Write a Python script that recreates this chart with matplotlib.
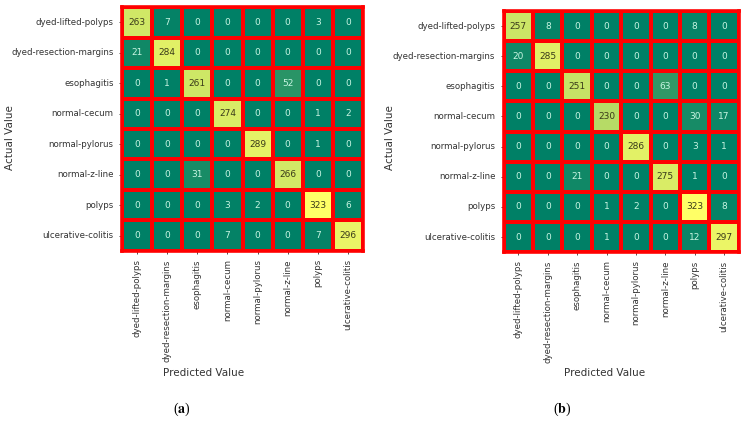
import numpy as np
import matplotlib
matplotlib.use("Agg")
import matplotlib.pyplot as plt
import seaborn as sns

classes = ["dyed-lifted-polyps", "dyed-resection-margins", "esophagitis",
           "normal-cecum", "normal-pylorus", "normal-z-line", "polyps",
           "ulcerative-colitis"]

cm_a = [[263, 7, 0, 0, 0, 0, 3, 0],
        [21, 284, 0, 0, 0, 0, 0, 0],
        [0, 1, 261, 0, 0, 52, 0, 0],
        [0, 0, 0, 274, 0, 0, 1, 2],
        [0, 0, 0, 0, 289, 0, 1, 0],
        [0, 0, 31, 0, 0, 266, 0, 0],
        [0, 0, 0, 3, 2, 0, 323, 6],
        [0, 0, 0, 7, 0, 0, 7, 296]]

cm_b = [[257, 8, 0, 0, 0, 0, 8, 0],
        [20, 285, 0, 0, 0, 0, 0, 0],
        [0, 0, 251, 0, 0, 63, 0, 0],
        [0, 0, 0, 230, 0, 0, 30, 17],
        [0, 0, 0, 0, 286, 0, 3, 1],
        [0, 0, 21, 0, 0, 275, 1, 0],
        [0, 0, 0, 1, 2, 0, 323, 8],
        [0, 0, 0, 1, 0, 0, 12, 297]]

panel_labels = ["a", "b"]

plt.rcParams["mathtext.fontset"] = "stix"

fig = plt.figure(figsize=(7.44, 4.23), dpi=100)

# axes boxes [left, bottom, width, height] and label positions (figure px)
boxes = [[0.164, 0.407, 0.324, 0.576], [0.677, 0.404, 0.316, 0.570]]
ylab_x = [10, 390]
xlab_x = [204, 605]
tag_x = [182, 562]


def draw(ax, cm):
    sns.heatmap(np.array(cm), ax=ax, cmap="summer", annot=True, fmt="d",
                cbar=False, linewidths=2.6, linecolor="red",
                annot_kws={"fontsize": 6.5},
                xticklabels=classes, yticklabels=classes)
    for t in ax.texts:
        v = int(t.get_text())
        t.set_color("#3a3a1a" if v > 150 else "#c8f5e2")
    for s in ax.spines.values():
        s.set_visible(True)
        s.set_color("red")
        s.set_linewidth(2.6)
    ax.tick_params(axis="both", labelsize=6.2, colors="#333333",
                   length=2.5, width=0.6)
    ax.set_xticklabels(classes, rotation=90)
    ax.set_yticklabels(classes, rotation=0)


for i, cm in enumerate([cm_a, cm_b]):
    ax = fig.add_axes(boxes[i])
    draw(ax, cm)
    fig.text(ylab_x[i] / 744, 1 - 138 / 423, "Actual Value", rotation=90,
             ha="center", va="center", fontsize=7.5, color="#333333")
    fig.text(xlab_x[i] / 744, 1 - 373 / 423, "Predicted Value",
             ha="center", va="center", fontsize=7.5, color="#333333")
    fig.text(tag_x[i] / 744, 1 - 409 / 423,
             "($\\mathbf{" + panel_labels[i] + "}$)",
             ha="center", va="center", fontsize=10,
             family="Liberation Serif")

fig.savefig("out.png", dpi=100)
